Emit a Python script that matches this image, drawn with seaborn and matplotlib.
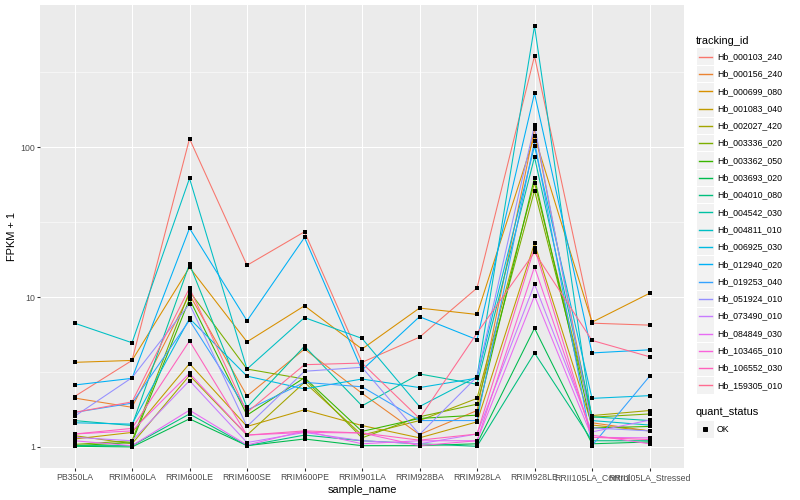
import numpy as np
import pandas as pd
import matplotlib
matplotlib.use("Agg")
import matplotlib.pyplot as plt
import seaborn as sns
from matplotlib.patches import Rectangle
from matplotlib.lines import Line2D
from matplotlib.ticker import NullFormatter

samples = ["PB350LA", "RRIM600LA", "RRIM600LE", "RRIM600SE", "RRIM600PE",
           "RRIM901LA", "RRIM928BA", "RRIM928LA", "RRIM928LE",
           "RRII105LA_Control", "RRII105LA_Stressed"]

tracking_ids = ["Hb_000103_240", "Hb_000156_240", "Hb_000699_080", "Hb_001083_040",
                "Hb_002027_420", "Hb_003336_020", "Hb_003362_050", "Hb_003693_020",
                "Hb_004010_080", "Hb_004542_030", "Hb_004811_010", "Hb_006925_030",
                "Hb_012940_020", "Hb_019253_040", "Hb_051924_010", "Hb_073490_010",
                "Hb_084849_030", "Hb_103465_010", "Hb_106552_030", "Hb_159305_010"]

# FPKM + 1 values per gene, in sample order
Hb_000103_240 = [2.17, 3.78, 114, 16.3, 27.3, 3.67, 5.4, 11.5, 406, 6.7, 6.5]
Hb_000156_240 = [2.12, 1.84, 10.4, 2.19, 4.5, 2.28, 1.21, 1.75, 133, 1.45, 1.28]
Hb_000699_080 = [3.67, 3.78, 15.8, 5.03, 8.75, 4.5, 8.45, 7.66, 119, 6.8, 10.6]
Hb_001083_040 = [1.13, 1.25, 3.6, 1.37, 1.77, 1.39, 1.15, 1.47, 22.8, 1.4, 1.28]
Hb_002027_420 = [1.19, 1.05, 3.0, 1.2, 2.7, 1.2, 1.5, 2.11, 58, 1.62, 1.75]
Hb_003336_020 = [1.04, 1.1, 10.9, 3.31, 2.84, 1.15, 1.59, 1.93, 51.4, 1.58, 1.66]
Hb_003362_050 = [1.02, 1.07, 9.7, 1.63, 2.9, 1.27, 1.55, 1.63, 62.5, 1.34, 1.37]
Hb_003693_020 = [1.01, 1.0, 1.54, 1.02, 1.13, 1.02, 1.02, 1.05, 6.2, 1.05, 1.08]
Hb_004010_080 = [1.02, 1.02, 1.66, 1.02, 1.2, 1.1, 1.05, 1.01, 4.24, 1.1, 1.1]
Hb_004542_030 = [1.5, 1.39, 16.6, 1.84, 4.7, 1.88, 3.07, 2.62, 86, 1.59, 1.5]
Hb_004811_010 = [6.7, 4.96, 62, 3.31, 7.3, 5.3, 1.86, 2.94, 644, 1.5, 1.4]
Hb_006925_030 = [1.45, 1.42, 7.2, 2.97, 2.44, 2.84, 2.49, 2.88, 102, 2.11, 2.2]
Hb_012940_020 = [2.59, 2.87, 28.8, 6.95, 25, 3.26, 7.4, 5.2, 229, 4.24, 4.45]
Hb_019253_040 = [1.7, 1.96, 7.0, 1.76, 2.7, 2.52, 1.5, 1.5, 110, 1.02, 2.96]
Hb_051924_010 = [1.6, 2.9, 9.0, 1.37, 3.2, 3.4, 1.21, 2.94, 140, 1.34, 1.28]
Hb_073490_010 = [1.16, 1.1, 2.77, 1.07, 1.25, 1.1, 1.05, 1.22, 12.2, 1.26, 1.51]
Hb_084849_030 = [1.1, 1.02, 1.76, 1.03, 1.28, 1.05, 1.1, 1.1, 10.2, 1.16, 1.15]
Hb_103465_010 = [1.22, 1.28, 3.1, 1.2, 1.25, 1.24, 1.02, 1.1, 15.9, 1.2, 1.05]
Hb_106552_030 = [1.22, 1.33, 5.1, 1.2, 1.28, 1.24, 1.11, 1.22, 21.4, 1.16, 1.12]
Hb_159305_010 = [1.7, 2.0, 11.5, 1.7, 3.54, 3.63, 1.55, 5.75, 19.9, 5.14, 4.0]

series_values = [Hb_000103_240, Hb_000156_240, Hb_000699_080, Hb_001083_040,
                 Hb_002027_420, Hb_003336_020, Hb_003362_050, Hb_003693_020,
                 Hb_004010_080, Hb_004542_030, Hb_004811_010, Hb_006925_030,
                 Hb_012940_020, Hb_019253_040, Hb_051924_010, Hb_073490_010,
                 Hb_084849_030, Hb_103465_010, Hb_106552_030, Hb_159305_010]

palette = ["#F8766D", "#EA8331", "#D89000", "#C09B00", "#A3A500", "#7CAE00",
           "#39B600", "#00BB4E", "#00BF7D", "#00C1A3", "#00BFC4", "#00BAE0",
           "#00B0F6", "#35A2FF", "#9590FF", "#C77CFF", "#E76BF3", "#FA62DB",
           "#FF62BC", "#FF6C91"]

rows = []
for tid, vals in zip(tracking_ids, series_values):
    for s, v in zip(samples, vals):
        rows.append({"tracking_id": tid, "sample_name": s, "fpkm1": v, "quant_status": "OK"})
df = pd.DataFrame(rows)

plt.rcParams["font.family"] = ["Liberation Sans", "DejaVu Sans"]

W, H = 800, 500
fig = plt.figure(figsize=(W / 72, H / 72), dpi=72)
fig.patch.set_facecolor("white")
left, right, top, bottom = 40, 684, 5, 468
ax = fig.add_axes([left / W, 1 - bottom / H, (right - left) / W, (bottom - top) / H])
ax.set_facecolor("#EBEBEB")

sns.lineplot(data=df, x="sample_name", y="fpkm1", hue="tracking_id",
             hue_order=tracking_ids, palette=palette, legend=False,
             linewidth=1.07, sort=False, ax=ax)
sns.scatterplot(data=df, x="sample_name", y="fpkm1", color="black", marker="s",
                s=10, linewidth=0, legend=False, ax=ax, zorder=3)

ax.set_yscale("log")
lo, hi = np.log10(df["fpkm1"].min()), np.log10(df["fpkm1"].max())
pad = 0.05 * (hi - lo)
ax.set_ylim(10 ** (lo - pad), 10 ** (hi + pad))
ax.set_xlim(-0.6, len(samples) - 0.4)

ax.set_yticks([1, 10, 100])
ax.set_yticklabels(["1", "10", "100"])
ax.set_yticks([10 ** 0.5, 10 ** 1.5, 10 ** 2.5], minor=True)
ax.yaxis.set_minor_formatter(NullFormatter())
ax.set_xticks(range(len(samples)))
ax.set_xticklabels(samples)

ax.set_axisbelow(True)
ax.grid(which="major", color="white", linewidth=1.07)
ax.grid(which="minor", axis="y", color="white", linewidth=0.53)
for sp in ax.spines.values():
    sp.set_visible(False)
ax.tick_params(which="major", color="#333333", length=2.75, width=1.07,
               labelcolor="#4D4D4D", labelsize=8.8, pad=2.2)
ax.tick_params(which="minor", length=0)

ax.set_xlabel("sample_name", fontsize=11, color="black", labelpad=3)
ax.set_ylabel("FPKM + 1", fontsize=11, color="black", labelpad=3)

# legend (drawn manually in ggplot style)
def fx(x):
    return x / W

def fy(y):
    return 1 - y / H

fig.text(fx(696), fy(40.5), "tracking_id", fontsize=11, va="center", ha="left")
step = 17.3
for i, (tid, col) in enumerate(zip(tracking_ids, palette)):
    yc = 56.7 + i * step
    fig.add_artist(Rectangle((fx(697), fy(yc + 8.3)), 16.6 / W, 16.6 / H,
                             transform=fig.transFigure, facecolor="#F2F2F2",
                             edgecolor="none"))
    fig.add_artist(Line2D([fx(698.7), fx(712)], [fy(yc), fy(yc)],
                          transform=fig.transFigure, color=col, linewidth=1.4))
    fig.text(fx(717), fy(yc), tid, fontsize=8.8, va="center", ha="left")

fig.text(fx(696), fy(412), "quant_status", fontsize=11, va="center", ha="left")
yc = 429.3
fig.add_artist(Rectangle((fx(697), fy(yc + 8.3)), 16.6 / W, 16.6 / H,
                         transform=fig.transFigure, facecolor="#F2F2F2",
                         edgecolor="none"))
fig.add_artist(Line2D([fx(705.3)], [fy(yc)], transform=fig.transFigure,
                      marker="s", markersize=3.3, color="black", linestyle="none"))
fig.text(fx(717), fy(yc), "OK", fontsize=8.8, va="center", ha="left")

fig.savefig("out.png", dpi=72)
